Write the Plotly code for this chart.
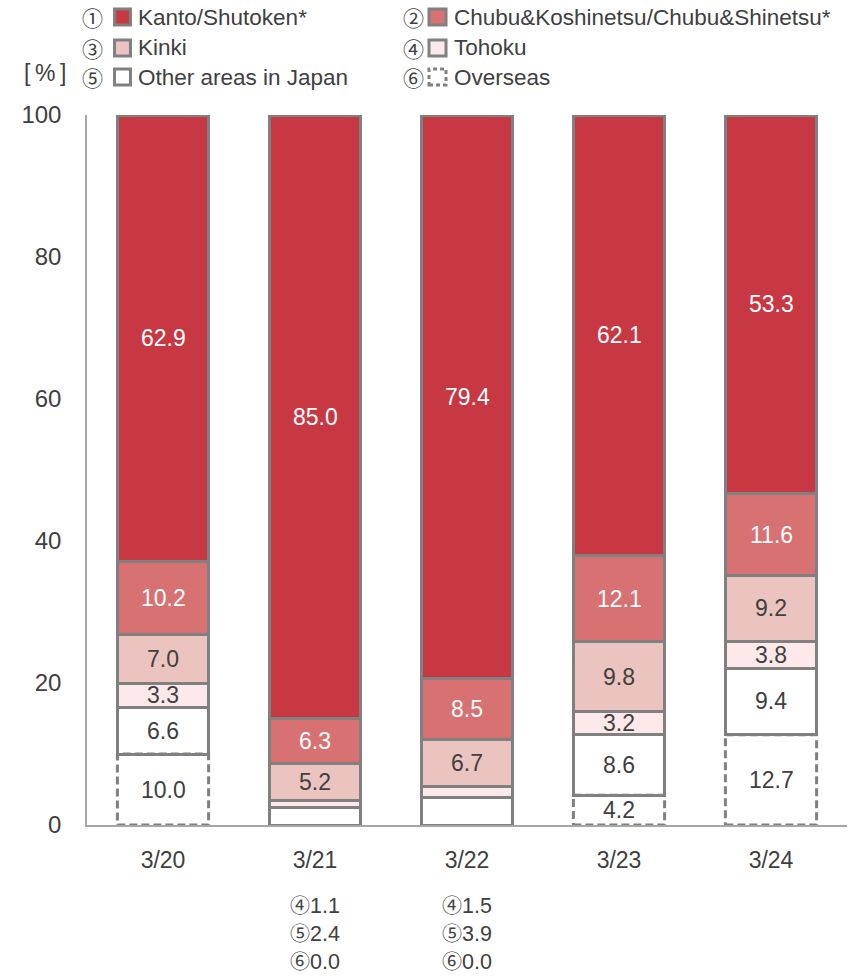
import plotly.graph_objects as go

categories = ["3/20", "3/21", "3/22", "3/23", "3/24"]
series_names = ["Overseas", "Other areas in Japan", "Tohoku", "Kinki",
                "Chubu&Koshinetsu/Chubu&Shinetsu*", "Kanto/Shutoken*"]
series_marks = ["⑥", "⑤", "④", "③", "②", "①"]
overseas = [10.0, 0.0, 0.0, 4.2, 12.7]
other_japan = [6.6, 2.4, 3.9, 8.6, 9.4]
tohoku = [3.3, 1.1, 1.5, 3.2, 3.8]
kinki = [7.0, 5.2, 6.7, 9.8, 9.2]
chubu = [10.2, 6.3, 8.5, 12.1, 11.6]
kanto = [62.9, 85.0, 79.4, 62.1, 53.3]
footnote_categories = ["3/21", "3/22"]
footnote_series = ["Tohoku", "Other areas in Japan", "Overseas"]

series_values = [overseas, other_japan, tohoku, kinki, chubu, kanto]
fills = ["#FFFFFF", "#FFFFFF", "#FDE9E9", "#EBC4BF", "#D77172", "#C83843"]
label_colors = ["#404040", "#404040", "#404040", "#404040", "#FFFFFF", "#FFFFFF"]
OUTLINE = "#808080"
TXT = "#404040"
FONT = "Arial, Liberation Sans, sans-serif"
MARKFONT = "Noto Sans CJK JP"
BW = 0.6


def mark(m, size):
    return f'<span style="font-family:{MARKFONT};font-size:{size}px">{m}</span>'


xs = list(range(len(categories)))
fig = go.Figure()
for k, (name, vals) in enumerate(zip(series_names, series_values)):
    is_dashed = (name == "Overseas")
    fig.add_trace(go.Bar(
        x=xs, y=vals, name=name, width=BW,
        marker=dict(color=fills[k],
                    line=dict(color=OUTLINE, width=0 if is_dashed else 3)),
        showlegend=False, hoverinfo="y+name",
    ))

shapes = []
annotations = []
# dashed outlines for overseas
for i, v in enumerate(overseas):
    if v > 0:
        shapes.append(dict(type="rect", xref="x", yref="y",
                           x0=i - BW / 2, x1=i + BW / 2, y0=0, y1=v,
                           line=dict(color=OUTLINE, width=3, dash="8px,4px"),
                           fillcolor="rgba(0,0,0,0)", layer="above"))

# data labels
for i, cat in enumerate(categories):
    base = 0.0
    for k, (name, vals) in enumerate(zip(series_names, series_values)):
        v = vals[i]
        if not (cat in footnote_categories and name in footnote_series):
            annotations.append(dict(x=i, y=base + v / 2, xref="x", yref="y",
                                    text=f"{v:.1f}", showarrow=False,
                                    font=dict(size=23, color=label_colors[k], family=FONT)))
        base += v

# footnotes below the axis (one multi-line text per category)
for cat in footnote_categories:
    i = categories.index(cat)
    lines = []
    for name in footnote_series:
        k = series_names.index(name)
        lines.append(f"{mark(series_marks[k], 20)}{series_values[k][i]:.1f}")
    annotations.append(dict(x=i, y=-0.0885, xref="x", yref="paper",
                            text="<br>".join(lines), align="left",
                            showarrow=False, xanchor="center", yanchor="top",
                            font=dict(size=21.5, color=TXT, family=FONT)))

# custom legend
legend_order = ["Kanto/Shutoken*", "Chubu&Koshinetsu/Chubu&Shinetsu*", "Kinki",
                "Tohoku", "Other areas in Japan", "Overseas"]
col_x = [(0.0066, 0.0362, 0.0572, 0.0645), (0.430, 0.450, 0.4724, 0.480)]
row_y = [1.138, 1.0944, 1.0535]
hs = 0.0113
for j, name in enumerate(legend_order):
    k = series_names.index(name)
    cx, sx0, sx1, tx = col_x[j % 2]
    ry = row_y[j // 2]
    annotations.append(dict(x=cx, y=ry, xref="paper", yref="paper", text=series_marks[k],
                            showarrow=False, xanchor="center", yanchor="middle",
                            font=dict(size=21, color=TXT, family=MARKFONT)))
    annotations.append(dict(x=tx, y=ry, xref="paper", yref="paper", text=name,
                            showarrow=False, xanchor="left", yanchor="middle",
                            font=dict(size=22.5, color=TXT, family=FONT)))
    shapes.append(dict(type="rect", xref="paper", yref="paper",
                       x0=sx0, x1=sx1, y0=ry - hs, y1=ry + hs,
                       fillcolor=fills[k],
                       line=dict(color=OUTLINE, width=3,
                                 dash="4px,3px" if name == "Overseas" else "solid")))

annotations.append(dict(x=-0.0555, y=1.059, xref="paper", yref="paper",
                        text="[\u2009%\u2009]",
                        showarrow=False, xanchor="center", yanchor="middle",
                        font=dict(size=23, color=TXT, family=FONT)))

fig.update_layout(
    barmode="stack",
    width=868, height=977,
    margin=dict(l=87, r=21, t=115, b=152, autoexpand=False),
    paper_bgcolor="white", plot_bgcolor="white",
    font=dict(family=FONT, color=TXT),
    shapes=shapes, annotations=annotations,
    showlegend=False,
)
fig.update_xaxes(range=[-0.5, len(categories) - 0.5], tickmode="array",
                 tickvals=xs, ticktext=categories,
                 showline=True, linecolor="#A6A6A6", linewidth=1.5,
                 ticks="outside", ticklen=14, tickcolor="rgba(0,0,0,0)",
                 tickfont=dict(size=23, color=TXT), showgrid=False, zeroline=False)
fig.update_yaxes(range=[0, 100], tickvals=[0, 20, 40, 60, 80, 100],
                 showline=True, linecolor="#A6A6A6", linewidth=1.5,
                 ticks="outside", ticklen=19, tickcolor="rgba(0,0,0,0)",
                 tickfont=dict(size=24, color=TXT), showgrid=False, zeroline=False)

fig.write_html("out.html")
